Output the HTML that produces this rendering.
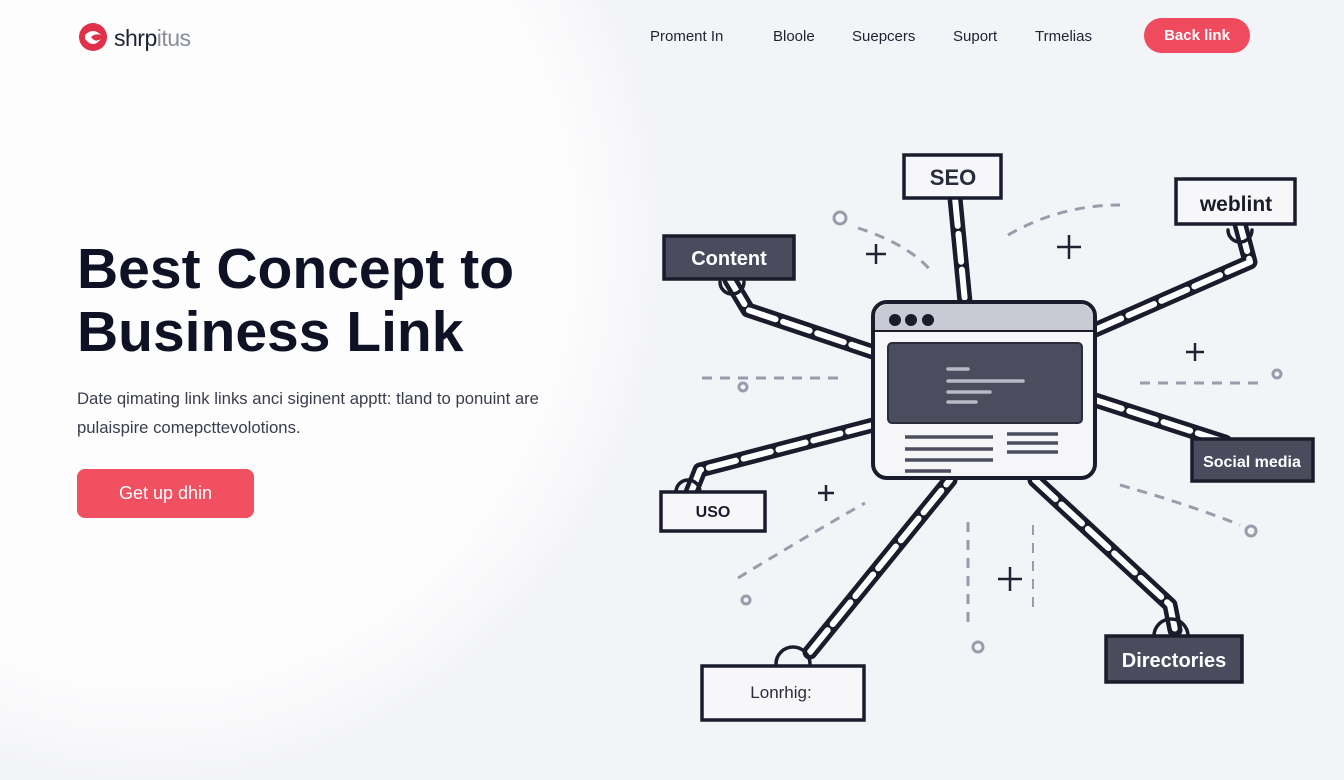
<!DOCTYPE html>
<html><head><meta charset="utf-8"><style>
*{margin:0;padding:0;box-sizing:border-box}
body{width:1344px;height:768px;overflow:hidden;background:#f3f4f7;font-family:"Liberation Sans",sans-serif;position:relative}
.blob{position:absolute;left:-360px;top:-300px;width:1020px;height:1080px;border-radius:50%;background:radial-gradient(closest-side,#fdfdfe 80%,#f8f8fa 93%,rgba(243,244,247,0) 100%)}
.t{position:absolute;white-space:nowrap}
</style></head><body>
<div class="blob"></div>
<svg class="t" style="left:77px;top:21px" width="34" height="32" viewBox="0 0 34 32"><circle cx="16" cy="16" r="14" fill="#e0304a"/><path d="M8 14 Q16 6 24 14 Q18 12 14 16 Q18 22 24 18 Q16 28 8 18Z" fill="#fff"/></svg>
<div class="t" style="left:114px;top:25px;font-size:23px;color:#1e2233;letter-spacing:-0.5px">shrp<span style="color:#8a8d9c">itus</span></div>
<div class="t" style="left:650px;top:28px;font-size:15px;color:#1e2233">Proment In</div>
<div class="t" style="left:773px;top:28px;font-size:15px;color:#1e2233">Bloole</div>
<div class="t" style="left:852px;top:28px;font-size:15px;color:#1e2233">Suepcers</div>
<div class="t" style="left:953px;top:28px;font-size:15px;color:#1e2233">Suport</div>
<div class="t" style="left:1035px;top:28px;font-size:15px;color:#1e2233">Trmelias</div>
<div class="t" style="left:1144px;top:18px;width:106px;height:35px;border-radius:18px;background:#f04a5e;color:#fff;font-size:15px;font-weight:bold;text-align:center;line-height:35px">Back link</div>
<div class="t" style="left:77px;top:238px;font-size:57px;font-weight:bold;color:#0f1225;line-height:63px">Best Concept to<br>Business Link</div>
<div class="t" style="left:77px;top:384px;font-size:16.7px;color:#3a3d4c;line-height:29px">Date qimating link links anci siginent apptt: tland to ponuint are<br>pulaispire comepcttevolotions.</div>
<div class="t" style="left:77px;top:469px;width:177px;height:49px;border-radius:8px;background:#f0505f;color:#fff;font-size:18px;text-align:center;line-height:49px">Get up dhin</div>
<svg class="t" style="left:0;top:0" width="1344" height="768" viewBox="0 0 1344 768">
<g fill="none" stroke="#9a9cab" stroke-width="3" stroke-dasharray="10 8">
<path d="M858 228 Q910 245 932 272"/>
<path d="M1008 235 Q1060 205 1120 205"/>
<path d="M702 378 H845"/>
<path d="M1140 383 H1265"/>
<path d="M738 578 Q800 540 865 503"/>
<path d="M968 522 V630"/>
<path d="M1120 485 Q1190 505 1240 525"/>
<path d="M1033 525 V615" stroke-width="2"/>
</g>
<g fill="none" stroke="#9a9cab" stroke-width="3">
<circle cx="840" cy="218" r="6"/><circle cx="743" cy="387" r="4"/><circle cx="1277" cy="374" r="4"/>
<circle cx="746" cy="600" r="4"/><circle cx="978" cy="647" r="5"/><circle cx="1251" cy="531" r="5"/>
</g>
<g stroke="#1e2233" stroke-width="2.5">
<path d="M876 244v20M866 254h20"/><path d="M1069 235v24M1057 247h24"/><path d="M1195 343v18M1186 352h18"/>
<path d="M826 485v16M818 493h16"/><path d="M1010 567v24M998 579h24"/>
</g>
<g fill="none" stroke-linecap="round" stroke-linejoin="round">
<g stroke="#1a1c2c" stroke-width="15">
<path d="M955 198 L965 302"/>
<path d="M1240 224 L1250 262 L1095 330"/>
<path d="M730 280 L748 310 L873 352"/>
<path d="M1095 400 L1225 442"/>
<path d="M690 495 L700 470 L873 425"/>
<path d="M810 652 L950 480"/>
<path d="M1035 480 L1170 605 L1175 630"/>
</g>
<g stroke="#fff" stroke-width="6" stroke-dasharray="28 8">
<path d="M955 198 L965 302"/>
<path d="M1240 224 L1250 262 L1095 330"/>
<path d="M730 280 L748 310 L873 352"/>
<path d="M1095 400 L1225 442"/>
<path d="M690 495 L700 470 L873 425"/>
<path d="M810 652 L950 480"/>
<path d="M1035 480 L1170 605 L1175 630"/>
</g>
<g stroke="#1a1c2c" stroke-width="3.5">
<path d="M1228 230 a12 12 0 0 0 24 0"/><path d="M720 282 a12 12 0 0 0 24 0"/>
<path d="M776 664 a17 17 0 0 1 34 0"/><path d="M1154 636 a17 17 0 0 1 34 0"/>
<path d="M676 492 a12 12 0 0 1 24 0"/>
</g>
</g>
<rect x="873" y="302" width="222" height="176" rx="14" fill="#f6f6f8" stroke="#1a1c2c" stroke-width="4"/>
<path d="M875 330 V318 a14 14 0 0 1 14 -14 H1079 a14 14 0 0 1 14 14 V330Z" fill="#c9cad3"/>
<line x1="875" y1="331" x2="1093" y2="331" stroke="#1a1c2c" stroke-width="2"/>
<circle cx="895" cy="320" r="6" fill="#1a1c2c"/><circle cx="911" cy="320" r="6" fill="#1a1c2c"/><circle cx="928" cy="320" r="6" fill="#1a1c2c"/>
<rect x="888" y="343" width="194" height="80" rx="4" fill="#4b4d5e" stroke="#2a2c3a" stroke-width="2"/>
<g stroke="#b8bac6" stroke-width="3.5" stroke-linecap="round">
<path d="M948 369h20M948 381h75M948 392h42M948 402h28"/>
</g>
<g stroke="#4b4d5e" stroke-width="3.5">
<path d="M905 437h88M905 449h88M905 460h88M905 471h46M1007 434h51M1007 443h51M1007 452h51"/>
</g>
<g stroke="#1a1c2c" stroke-width="3.5">
<rect x="904" y="155" width="97" height="43" fill="#f7f7f9"/>
<rect x="1176" y="179" width="119" height="45" fill="#f7f7f9"/>
<rect x="664" y="236" width="130" height="43" fill="#4a4c5e"/>
<rect x="1192" y="439" width="121" height="42" fill="#4a4c5e"/>
<rect x="661" y="492" width="104" height="39" fill="#f7f7f9"/>
<rect x="702" y="666" width="162" height="54" fill="#f7f7f9"/>
<rect x="1106" y="636" width="136" height="46" fill="#4a4c5e"/>
</g>
<g font-family="Liberation Sans,sans-serif" font-weight="bold" text-anchor="middle">
<text x="953" y="185" font-size="22" fill="#2a2c3c">SEO</text>
<text x="1236" y="211" font-size="21" fill="#1a1c2c">weblint</text>
<text x="729" y="265" font-size="20" fill="#fff">Content</text>
<text x="1252" y="467" font-size="16" fill="#fff">Social media</text>
<text x="713" y="517" font-size="16" fill="#1a1c2c">USO</text>
<text x="1174" y="667" font-size="20" fill="#fff">Directories</text>
<text x="781" y="698" font-size="17" font-weight="normal" fill="#2a2c3c">Lonrhig:</text>
</g>
</svg>
</body></html>
